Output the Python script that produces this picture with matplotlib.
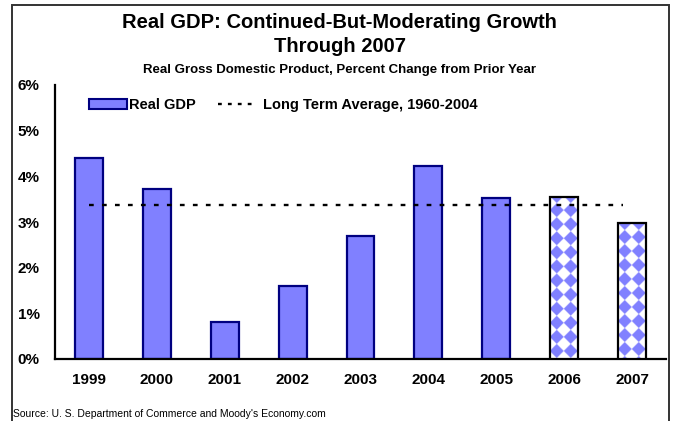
import numpy as np
import matplotlib
matplotlib.use("Agg")
import matplotlib.pyplot as plt
from matplotlib.patches import Patch, Rectangle
from matplotlib.lines import Line2D

# Real GDP growth, percent change from prior year (2006-2007 are forecasts)
years = ["1999", "2000", "2001", "2002", "2003", "2004", "2005", "2006", "2007"]
gdp_growth = [4.4, 3.72, 0.8, 1.6, 2.7, 4.23, 3.53, 3.55, 2.97]
is_forecast = [False, False, False, False, False, False, False, True, True]
long_term_avg = 3.37
y_ticks = [0, 1, 2, 3, 4, 5, 6]

BAR_FACE = "#8080FF"
BAR_EDGE = "#000080"

plt.rcParams["font.family"] = ["Liberation Sans", "DejaVu Sans"]

W, H = 677, 421
fig = plt.figure(figsize=(W / 100, H / 100), dpi=100)
ax = fig.add_axes([55 / W, 62 / H, 611 / W, 274 / H])

x = np.arange(len(years))
width = 0.41
ax.set_xlim(-0.5, len(years) - 0.5)
ax.set_ylim(0, 6)

actual = [v if not f else 0 for v, f in zip(gdp_growth, is_forecast)]
fcast = [v if f else 0 for v, f in zip(gdp_growth, is_forecast)]

ax.bar(x, actual, width, color=BAR_FACE, edgecolor=BAR_EDGE, linewidth=1.6, zorder=2)
fbars = ax.bar(x, fcast, width, color="white", edgecolor="none", linewidth=0, zorder=2)

# diamond checker fill for forecast bars, built in screen pixels and clipped to each bar
s = 14.0
for bar, f in zip(fbars, is_forecast):
    if not f:
        continue
    ext = bar.get_window_extent()
    wpx, hpx = int(round(ext.width)) * 2, int(round(ext.height)) * 2
    px = (np.arange(wpx) + 0.5) / 2.0
    py = (np.arange(hpx) + 0.5) / 2.0
    X, Y = np.meshgrid(px, py)
    blue = (np.floor((X + Y) / s) + np.floor((X - Y) / s)) % 2 == 0
    img = np.ones((hpx, wpx, 3))
    img[blue] = matplotlib.colors.to_rgb(BAR_FACE)
    x0 = bar.get_x()
    im = ax.imshow(img, extent=(x0, x0 + bar.get_width(), 0, bar.get_height()),
                   origin="upper", aspect="auto", interpolation="bilinear", zorder=3)
    im.set_clip_path(bar)
    ax.add_patch(Rectangle((x0, 0), bar.get_width(), bar.get_height(), fill=False,
                           edgecolor="black", linewidth=1.6, zorder=4))

ax.set_xlim(-0.5, len(years) - 0.5)
ax.set_ylim(0, 6)

ax.axhline(long_term_avg, xmin=0.0556, xmax=0.93, color="black", linewidth=1.7,
           dashes=(2, 3.5), zorder=5)

for side in ("top", "right"):
    ax.spines[side].set_visible(False)
for side in ("left", "bottom"):
    ax.spines[side].set_linewidth(1.6)
    ax.spines[side].set_color("black")

ax.set_xticks(x)
ax.set_xticklabels(years, fontsize=11, fontweight="bold")
ax.set_yticks(y_ticks)
ax.set_yticklabels([f"{t}%" for t in y_ticks], fontsize=11, fontweight="bold")
ax.tick_params(axis="both", length=0)
ax.tick_params(axis="x", pad=10)
ax.tick_params(axis="y", pad=11)

leg1 = ax.legend(handles=[Patch(facecolor=BAR_FACE, edgecolor=BAR_EDGE, linewidth=1.5)],
                 labels=["Real GDP"], loc="center left", bbox_to_anchor=(0.044, 0.927),
                 frameon=False, borderpad=0, handlelength=2.6, handletextpad=0.15,
                 prop={"weight": "bold", "size": 10.5})
ax.add_artist(leg1)
ax.legend(handles=[Line2D([], [], color="black", linewidth=1.7, dashes=(1.6, 2.6))],
          labels=["Long Term Average, 1960-2004"], loc="center left",
          bbox_to_anchor=(0.255, 0.927), frameon=False, borderpad=0,
          handlelength=2.6, handletextpad=0.5, prop={"weight": "bold", "size": 10.5})

fig.text(0.502, 1 - 22 / H, "Real GDP: Continued-But-Moderating Growth",
         ha="center", va="center", fontsize=14.5, fontweight="bold")
fig.text(0.502, 1 - 47 / H, "Through 2007",
         ha="center", va="center", fontsize=14.5, fontweight="bold")
fig.text(0.502, 1 - 70 / H, "Real Gross Domestic Product, Percent Change from Prior Year",
         ha="center", va="center", fontsize=9.5, fontweight="bold")
fig.text(13 / W, 1 - 414 / H, "Source: U. S. Department of Commerce and Moody's Economy.com",
         ha="left", va="center", fontsize=7.5)

fig.patches.append(Rectangle((12 / W, -0.05), (669 - 12) / W, (H - 5) / H + 0.05,
                             transform=fig.transFigure, fill=False,
                             edgecolor="#333333", linewidth=1.4))

fig.savefig("out.png", dpi=100)
